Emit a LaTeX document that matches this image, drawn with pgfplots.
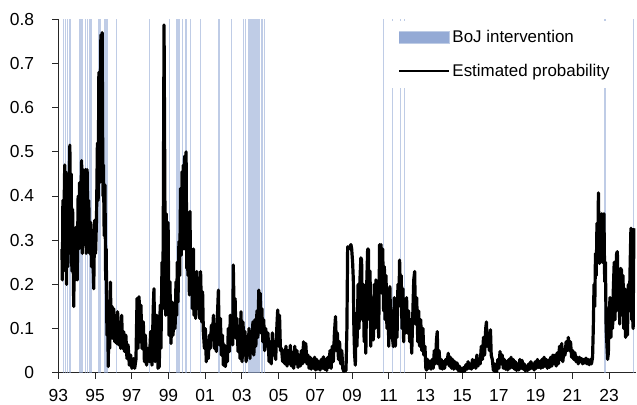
\documentclass[border=0pt]{standalone}
\usepackage{fontspec}
\setmainfont{Liberation Sans}
\usepackage{pgfplots}
\pgfplotsset{compat=1.18}
\definecolor{bojblue}{RGB}{148,170,213}

\begin{document}
\begin{tikzpicture}
\begin{axis}[
    scale only axis,
    width=577.4bp,
    height=353.4bp,
    xmin=1993, xmax=2024.45,
    ymin=0, ymax=0.8,
    axis x line=bottom,
    axis y line=left,
    axis line style={-, line width=0.8bp, black!85},
    tick style={line width=0.8bp, black!85},
    tick align=outside,
    major tick length=6bp,
    xtick={1993,1995,...,2023},
    xticklabels={93,95,97,99,01,03,05,07,09,11,13,15,17,19,21,23},
    ytick={0,0.1,...,0.8},
    minor tick num=0,
    font=\fontsize{17.5}{20}\selectfont,
    tick label style={font=\fontsize{17.5}{20}\selectfont},
    xticklabel style={yshift=-7bp},
    y tick label style={anchor=east, inner sep=0pt, xshift=-18bp},
    /pgf/number format/fixed,
    /pgf/number format/precision=1,
    /pgf/number format/assume math mode=true,
    legend style={
        at={(rel axis cs:0.568,0.997)},
        anchor=north west,
        draw=none,
        fill=white,
        inner xsep=12bp,
        inner ysep=8bp,
        row sep=16bp,
        font=\fontsize{17}{20}\selectfont,
        cells={anchor=west},
    },
]
% BoJ intervention dates
\addplot[ycomb, draw=bojblue, draw opacity=0.6, line width=1.2bp,
    legend image code/.code={\fill[bojblue] (0bp,-5.5bp) rectangle (50bp,5.5bp);}]
coordinates {
(1993.27,0.8) (1993.38,0.8) (1993.51,0.8) (1993.64,0.8)
(1994.18,0.8) (1994.25,0.8) (1994.33,0.8) (1994.47,0.8) (1994.60,0.8) (1994.73,0.8) (1994.80,0.8)
(1995.18,0.8) (1995.22,0.8) (1995.27,0.8) (1995.51,0.8) (1995.60,0.8) (1995.68,0.8)
(1996.18,0.8) (1997.96,0.8) (1999.05,0.8)
(1999.46,0.8) (1999.57,0.8) (1999.75,0.8) (1999.96,0.8) (2000.21,0.8) (2000.75,0.8)
(2001.75,0.8) (2002.44,0.8)
(2003.08,0.8) (2003.21,0.8) (2003.35,0.8) (2003.38,0.8) (2003.41,0.8) (2003.44,0.8)
(2003.47,0.8) (2003.50,0.8) (2003.53,0.8) (2003.56,0.8)
(2003.66,0.8) (2003.74,0.8) (2003.82,0.8) (2003.90,0.8) (2003.98,0.8)
(2004.06,0.8) (2004.14,0.8) (2004.21,0.8)
(2010.70,0.8) (2011.19,0.8) (2011.63,0.8) (2011.85,0.8)
(2022.73,0.8) (2022.81,0.8) (2024.33,0.8)
};
\addlegendentry{BoJ intervention}
% estimated probability
\addplot[black, line width=3.2bp, line join=round,
    legend image code/.code={\draw[black, line width=2bp] (0bp,0bp) -- (50bp,0bp);}]
coordinates {
(1993.20,0.28) (1993.22,0.21) (1993.25,0.39) (1993.28,0.23) (1993.31,0.36) (1993.35,0.47)
(1993.38,0.28) (1993.41,0.455) (1993.45,0.20) (1993.48,0.45) (1993.52,0.24) (1993.56,0.34)
(1993.63,0.515) (1993.66,0.27) (1993.70,0.45) (1993.74,0.23) (1993.78,0.37) (1993.84,0.15)
(1993.88,0.29) (1993.93,0.21) (1993.98,0.33) (1994.03,0.21) (1994.08,0.40) (1994.12,0.28)
(1994.16,0.43) (1994.20,0.32) (1994.27,0.48) (1994.31,0.27) (1994.35,0.46) (1994.39,0.29)
(1994.43,0.41) (1994.48,0.46) (1994.52,0.27) (1994.57,0.46) (1994.61,0.33) (1994.66,0.39)
(1994.71,0.27) (1994.77,0.34) (1994.81,0.24) (1994.87,0.29) (1994.93,0.19) (1994.98,0.345)
(1995.03,0.27) (1995.08,0.345) (1995.13,0.52) (1995.17,0.39) (1995.21,0.68) (1995.25,0.43)
(1995.32,0.765) (1995.35,0.51) (1995.39,0.77) (1995.43,0.40) (1995.46,0.47) (1995.50,0.31)
(1995.54,0.425) (1995.58,0.21) (1995.61,0.28) (1995.65,0.085) (1995.69,0.15) (1995.72,0.014)
(1995.76,0.145) (1995.80,0.055) (1995.84,0.205) (1995.88,0.078) (1995.93,0.15) (1995.97,0.078)
(1996.02,0.145) (1996.07,0.07) (1996.12,0.127) (1996.18,0.066) (1996.23,0.138) (1996.29,0.063)
(1996.34,0.11) (1996.40,0.055) (1996.45,0.13) (1996.51,0.055) (1996.56,0.093) (1996.61,0.048)
(1996.68,0.085) (1996.74,0.032) (1996.80,0.063) (1996.87,0.017) (1996.94,0.04) (1997.01,0.01)
(1997.09,0.032) (1997.16,0.01) (1997.23,0.03) (1997.29,0.168) (1997.34,0.055) (1997.40,0.172)
(1997.45,0.07) (1997.50,0.153) (1997.56,0.055) (1997.63,0.115) (1997.69,0.025) (1997.74,0.085)
(1997.81,0.017) (1997.88,0.055) (1997.96,0.025) (1998.03,0.093) (1998.10,0.017) (1998.17,0.145)
(1998.21,0.19) (1998.27,0.025) (1998.36,0.13) (1998.43,0.01) (1998.50,0.014) (1998.55,0.153)
(1998.59,0.055) (1998.65,0.25) (1998.69,0.145) (1998.72,0.357) (1998.76,0.787) (1998.81,0.357)
(1998.85,0.13) (1998.88,0.36) (1998.94,0.16) (1998.98,0.34) (1999.03,0.085) (1999.08,0.206)
(1999.14,0.066) (1999.19,0.16) (1999.25,0.085) (1999.30,0.145) (1999.36,0.10) (1999.41,0.206)
(1999.45,0.13) (1999.48,0.25) (1999.52,0.16) (1999.57,0.297) (1999.61,0.22) (1999.66,0.417)
(1999.70,0.266) (1999.74,0.455) (1999.77,0.327) (1999.81,0.47) (1999.85,0.28) (1999.88,0.49)
(1999.92,0.387) (1999.96,0.50) (2000.00,0.236) (2000.03,0.31) (2000.06,0.22) (2000.10,0.32)
(2000.14,0.176) (2000.17,0.365) (2000.21,0.22) (2000.25,0.28) (2000.30,0.145) (2000.36,0.28)
(2000.39,0.13) (2000.43,0.22) (2000.48,0.123) (2000.54,0.229) (2000.59,0.145) (2000.65,0.214)
(2000.70,0.123) (2000.75,0.229) (2000.81,0.115) (2000.86,0.183) (2000.90,0.093) (2000.96,0.055)
(2001.01,0.10) (2001.06,0.025) (2001.12,0.063) (2001.17,0.032) (2001.23,0.085) (2001.28,0.055)
(2001.34,0.108) (2001.39,0.078) (2001.45,0.13) (2001.50,0.055) (2001.55,0.085) (2001.61,0.048)
(2001.66,0.12) (2001.72,0.187) (2001.77,0.063) (2001.83,0.123) (2001.88,0.04) (2001.94,0.085)
(2001.99,0.017) (2002.04,0.063) (2002.10,0.014) (2002.15,0.055) (2002.21,0.025) (2002.26,0.10)
(2002.32,0.048) (2002.37,0.13) (2002.42,0.093) (2002.47,0.13) (2002.50,0.063) (2002.53,0.244)
(2002.58,0.13) (2002.63,0.168) (2002.68,0.078) (2002.73,0.123) (2002.79,0.048) (2002.84,0.093)
(2002.90,0.032) (2002.95,0.138) (2003.01,0.025) (2003.06,0.115) (2003.12,0.04) (2003.17,0.093)
(2003.23,0.025) (2003.28,0.07) (2003.33,0.04) (2003.39,0.10) (2003.44,0.032) (2003.50,0.093)
(2003.55,0.055) (2003.60,0.115) (2003.65,0.04) (2003.71,0.12) (2003.76,0.06) (2003.82,0.14)
(2003.87,0.08) (2003.92,0.187) (2003.96,0.10) (2004.00,0.18) (2004.04,0.09) (2004.09,0.145)
(2004.14,0.07) (2004.19,0.12) (2004.24,0.05) (2004.30,0.10) (2004.36,0.06) (2004.42,0.09)
(2004.48,0.025) (2004.54,0.07) (2004.60,0.02) (2004.66,0.09) (2004.72,0.04) (2004.78,0.07)
(2004.84,0.03) (2004.90,0.10) (2004.95,0.142) (2005.00,0.06) (2005.05,0.13) (2005.10,0.05)
(2005.16,0.055) (2005.22,0.025) (2005.28,0.05) (2005.34,0.02) (2005.40,0.06) (2005.46,0.015)
(2005.52,0.05) (2005.58,0.02) (2005.64,0.062) (2005.70,0.015) (2005.76,0.045) (2005.82,0.01)
(2005.88,0.06) (2005.94,0.02) (2006.00,0.05) (2006.06,0.012) (2006.12,0.04) (2006.18,0.015)
(2006.24,0.05) (2006.30,0.02) (2006.36,0.07) (2006.42,0.025) (2006.48,0.066) (2006.54,0.02)
(2006.60,0.04) (2006.66,0.01) (2006.72,0.035) (2006.78,0.008) (2006.84,0.03) (2006.90,0.01)
(2006.96,0.035) (2007.02,0.006) (2007.08,0.03) (2007.14,0.008) (2007.20,0.025) (2007.26,0.006)
(2007.32,0.03) (2007.38,0.01) (2007.44,0.036) (2007.50,0.008) (2007.56,0.03) (2007.62,0.005)
(2007.68,0.035) (2007.74,0.012) (2007.80,0.05) (2007.86,0.01) (2007.92,0.06) (2007.98,0.025)
(2008.04,0.09) (2008.10,0.127) (2008.15,0.05) (2008.20,0.09) (2008.26,0.03) (2008.32,0.07)
(2008.38,0.02) (2008.44,0.05) (2008.50,0.008) (2008.56,0.003) (2008.62,0.01) (2008.67,0.005)
(2008.72,0.10) (2008.76,0.285) (2008.82,0.28) (2008.88,0.285) (2008.94,0.29) (2008.98,0.28)
(2009.03,0.25) (2009.07,0.21) (2009.10,0.10) (2009.14,0.04) (2009.18,0.017) (2009.22,0.134)
(2009.27,0.06) (2009.33,0.20) (2009.38,0.10) (2009.43,0.21) (2009.48,0.26) (2009.52,0.255)
(2009.56,0.12) (2009.61,0.20) (2009.66,0.07) (2009.70,0.17) (2009.75,0.044) (2009.80,0.20)
(2009.85,0.28) (2009.89,0.28) (2009.93,0.12) (2009.98,0.23) (2010.02,0.06) (2010.07,0.17)
(2010.12,0.10) (2010.16,0.074) (2010.21,0.20) (2010.25,0.10) (2010.30,0.21) (2010.34,0.12)
(2010.40,0.20) (2010.45,0.08) (2010.50,0.29) (2010.54,0.27) (2010.58,0.29) (2010.62,0.18)
(2010.67,0.28) (2010.72,0.14) (2010.76,0.24) (2010.80,0.12) (2010.85,0.22) (2010.90,0.10)
(2010.95,0.19) (2011.00,0.06) (2011.06,0.195) (2011.10,0.12) (2011.16,0.14) (2011.20,0.08)
(2011.25,0.059) (2011.30,0.17) (2011.36,0.06) (2011.41,0.16) (2011.45,0.08) (2011.50,0.20)
(2011.55,0.15) (2011.59,0.255) (2011.63,0.18) (2011.68,0.22) (2011.72,0.10) (2011.77,0.19)
(2011.81,0.07) (2011.86,0.16) (2011.91,0.09) (2011.97,0.17) (2012.02,0.09) (2012.08,0.14)
(2012.14,0.07) (2012.20,0.12) (2012.25,0.044) (2012.30,0.12) (2012.36,0.21) (2012.41,0.229)
(2012.46,0.11) (2012.52,0.17) (2012.58,0.07) (2012.63,0.14) (2012.68,0.06) (2012.74,0.12)
(2012.80,0.05) (2012.86,0.10) (2012.91,0.04) (2012.97,0.06) (2013.02,0.01) (2013.06,0.006)
(2013.12,0.03) (2013.18,0.01) (2013.24,0.025) (2013.30,0.008) (2013.36,0.03) (2013.42,0.01)
(2013.48,0.05) (2013.54,0.02) (2013.60,0.075) (2013.64,0.093) (2013.68,0.02) (2013.74,0.05)
(2013.80,0.01) (2013.86,0.03) (2013.92,0.008) (2013.98,0.025) (2014.04,0.01) (2014.10,0.03)
(2014.16,0.02) (2014.24,0.044) (2014.30,0.015) (2014.36,0.035) (2014.42,0.01) (2014.48,0.03)
(2014.54,0.008) (2014.60,0.025) (2014.66,0.01) (2014.72,0.022) (2014.78,0.005) (2014.84,0.015)
(2014.90,0.003) (2014.96,0.01) (2015.02,0.0) (2015.08,0.012) (2015.14,0.004) (2015.20,0.018)
(2015.26,0.008) (2015.32,0.025) (2015.38,0.01) (2015.44,0.02) (2015.50,0.008) (2015.56,0.03)
(2015.62,0.012) (2015.68,0.028) (2015.74,0.01) (2015.80,0.04) (2015.86,0.015) (2015.92,0.03)
(2015.98,0.02) (2016.04,0.06) (2016.10,0.03) (2016.16,0.08) (2016.22,0.04) (2016.28,0.10)
(2016.32,0.115) (2016.36,0.06) (2016.42,0.09) (2016.48,0.05) (2016.54,0.097) (2016.58,0.04)
(2016.64,0.03) (2016.70,0.005) (2016.76,0.02) (2016.82,0.0) (2016.88,0.003) (2016.94,0.03)
(2017.00,0.01) (2017.06,0.048) (2017.12,0.02) (2017.18,0.04) (2017.24,0.01) (2017.30,0.03)
(2017.36,0.008) (2017.42,0.025) (2017.48,0.006) (2017.54,0.03) (2017.60,0.01) (2017.66,0.035)
(2017.72,0.012) (2017.78,0.03) (2017.84,0.008) (2017.90,0.025) (2017.96,0.005) (2018.02,0.02)
(2018.08,0.006) (2018.14,0.03) (2018.20,0.01) (2018.26,0.028) (2018.32,0.008) (2018.38,0.02)
(2018.44,0.004) (2018.50,0.015) (2018.56,0.005) (2018.62,0.02) (2018.68,0.008) (2018.74,0.025)
(2018.80,0.01) (2018.86,0.02) (2018.92,0.006) (2018.98,0.025) (2019.04,0.01) (2019.10,0.03)
(2019.16,0.012) (2019.22,0.025) (2019.28,0.01) (2019.34,0.03) (2019.40,0.012) (2019.46,0.035)
(2019.52,0.015) (2019.58,0.03) (2019.64,0.01) (2019.70,0.028) (2019.76,0.012) (2019.82,0.035)
(2019.88,0.015) (2019.94,0.04) (2020.00,0.02) (2020.06,0.04) (2020.12,0.015) (2020.18,0.045)
(2020.24,0.02) (2020.30,0.06) (2020.36,0.03) (2020.42,0.066) (2020.48,0.025) (2020.54,0.05)
(2020.60,0.04) (2020.66,0.07) (2020.72,0.05) (2020.78,0.08) (2020.84,0.05) (2020.90,0.07)
(2020.96,0.035) (2021.02,0.05) (2021.08,0.03) (2021.14,0.045) (2021.20,0.025) (2021.26,0.035)
(2021.32,0.02) (2021.38,0.035) (2021.44,0.025) (2021.50,0.032) (2021.56,0.02) (2021.62,0.03)
(2021.68,0.022) (2021.74,0.033) (2021.80,0.02) (2021.86,0.03) (2021.92,0.018) (2021.98,0.03)
(2022.04,0.02) (2022.10,0.035) (2022.14,0.10) (2022.18,0.20) (2022.22,0.15) (2022.26,0.27)
(2022.30,0.22) (2022.34,0.338) (2022.38,0.26) (2022.42,0.407) (2022.45,0.30) (2022.48,0.247)
(2022.52,0.34) (2022.56,0.30) (2022.60,0.36) (2022.64,0.25) (2022.68,0.30) (2022.72,0.36)
(2022.76,0.206) (2022.80,0.25) (2022.84,0.10) (2022.88,0.066) (2022.92,0.03) (2022.96,0.044)
(2023.00,0.12) (2023.05,0.17) (2023.10,0.08) (2023.14,0.15) (2023.19,0.10) (2023.23,0.187)
(2023.28,0.25) (2023.32,0.12) (2023.37,0.20) (2023.41,0.27) (2023.45,0.274) (2023.50,0.14)
(2023.54,0.19) (2023.58,0.11) (2023.63,0.236) (2023.68,0.232) (2023.72,0.13) (2023.76,0.22)
(2023.80,0.10) (2023.85,0.19) (2023.90,0.08) (2023.95,0.12) (2024.00,0.085) (2024.05,0.20)
(2024.10,0.14) (2024.15,0.25) (2024.19,0.327) (2024.23,0.12) (2024.27,0.14) (2024.31,0.10)
(2024.35,0.327)
};
\addlegendentry{Estimated probability}
\end{axis}
\pgfresetboundingbox
\path (current axis.south west) ++(-58.3bp,-32.3bp) rectangle ++(637bp,405bp);
\end{tikzpicture}
\end{document}
